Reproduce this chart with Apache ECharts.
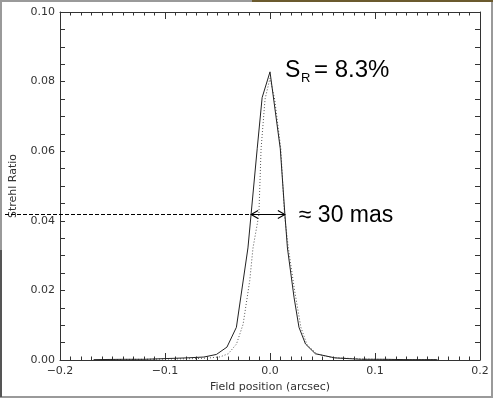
<!DOCTYPE html>
<html>
<head>
<meta charset="utf-8">
<script src="https://cdn.jsdelivr.net/npm/echarts@6/dist/echarts.min.js"></script>
<style>
html, body { margin: 0; padding: 0; background: #fff; }
#chart { width: 493px; height: 398px; }
</style>
</head>
<body>
<div id="chart"></div>
<script>
// solid curve: Strehl ratio vs field position (arcsec)
const solidX = [-0.168, -0.14, -0.12, -0.1, -0.08, -0.063, -0.051, -0.041, -0.032, -0.021, -0.0122, -0.0075, 0, 0.0098, 0.0141, 0.0166, 0.0229, 0.0276, 0.0338, 0.0432, 0.062, 0.087, 0.11, 0.13, 0.159]
const solidY = [0.0001, 0.0002, 0.0002, 0.0004, 0.0006, 0.00085, 0.0016, 0.0037, 0.0094, 0.0322, 0.0607, 0.0754, 0.0828, 0.0607, 0.0422, 0.0322, 0.018, 0.0094, 0.0046, 0.0018, 0.0006, 0.0002, 0.0002, 0.0001, 0.0001]

// dotted curve
const dotX = [-0.16, -0.12, -0.09, -0.07, -0.058, -0.0475, -0.0397, -0.0319, -0.0256, -0.0193, -0.0162, -0.0106, -0.0085, -0.0047, 0, 0.0044, 0.0103, 0.0138, 0.0175, 0.023, 0.0294, 0.0354, 0.0448, 0.059, 0.087, 0.12, 0.16]
const dotY = [0.0001, 0.0002, 0.0003, 0.0004, 0.0006, 0.0009, 0.0018, 0.0046, 0.0103, 0.0228, 0.0322, 0.0417, 0.0607, 0.075, 0.081, 0.075, 0.0607, 0.0417, 0.0322, 0.0208, 0.0094, 0.0043, 0.0017, 0.0007, 0.0003, 0.0001, 0.0001]

const xTicks = [-0.2, -0.1, 0.0, 0.1, 0.2]
const yTicks = [0.00, 0.02, 0.04, 0.06, 0.08, 0.10]

const halfLevel = 0.042
const srText = '8.3%'
const widthText = '≈ 30 mas'

const axisColor = '#333'
const textColor = '#333'
const labelFont = 'DejaVu Sans'

function zip (xs, ys) {
  return xs.map((x, i) => [x, ys[i]])
}

// x where the curve crosses a level, searching left or right of the peak
function crossing (xs, ys, level, side) {
  let peak = ys.indexOf(Math.max(...ys))
  if (side < 0) {
    for (let i = peak; i > 0; i--) {
      if (ys[i - 1] <= level && ys[i] >= level) {
        return xs[i - 1] + (level - ys[i - 1]) / (ys[i] - ys[i - 1]) * (xs[i] - xs[i - 1])
      }
    }
  } else {
    for (let i = peak; i < ys.length - 1; i++) {
      if (ys[i] >= level && ys[i + 1] <= level) {
        return xs[i] + (ys[i] - level) / (ys[i] - ys[i + 1]) * (xs[i + 1] - xs[i])
      }
    }
  }
  return 0
}

function xLabel (v) {
  let s = Math.abs(v).toFixed(1)
  return v < -1e-9 ? '\u2212' + s : s
}

const xCommon = {
  type: 'value',
  min: xTicks[0],
  max: xTicks[xTicks.length - 1],
  interval: 0.1,
  axisLine: { show: true, onZero: false, lineStyle: { color: axisColor, width: 1 } },
  axisTick: { show: true, inside: true, length: 7, lineStyle: { color: axisColor } },
  minorTick: { show: true, splitNumber: 10, length: 3.5, lineStyle: { color: axisColor } },
  splitLine: { show: false }
}

const yCommon = {
  type: 'value',
  min: yTicks[0],
  max: yTicks[yTicks.length - 1],
  interval: 0.02,
  axisLine: { show: true, onZero: false, lineStyle: { color: axisColor, width: 1 } },
  axisTick: { show: true, inside: true, length: 5, lineStyle: { color: axisColor } },
  minorTick: { show: true, splitNumber: 4, length: 5, lineStyle: { color: axisColor } },
  splitLine: { show: false }
}

const chart = echarts.init(document.getElementById('chart'), null, { renderer: 'canvas' })

chart.setOption({
  backgroundColor: '#fff',
  animation: false,
  grid: { left: 54, right: 13, top: 12, bottom: 35 },
  xAxis: [
    Object.assign({}, xCommon, {
      position: 'bottom',
      name: 'Field position (arcsec)',
      nameLocation: 'middle',
      nameGap: 22,
      nameTextStyle: { fontFamily: labelFont, fontSize: 11, color: textColor },
      axisLabel: { margin: 6, fontFamily: labelFont, fontSize: 11, color: textColor, formatter: xLabel }
    }),
    Object.assign({}, xCommon, {
      position: 'top',
      axisLabel: { show: false }
    })
  ],
  yAxis: [
    Object.assign({}, yCommon, {
      position: 'left',
      name: 'Strehl Ratio',
      nameLocation: 'middle',
      nameGap: 41,
      nameTextStyle: { fontFamily: labelFont, fontSize: 11, color: textColor },
      axisLabel: { margin: 5, fontFamily: labelFont, fontSize: 11, color: textColor, formatter: v => v.toFixed(2) }
    }),
    Object.assign({}, yCommon, {
      position: 'right',
      axisLabel: { show: false }
    })
  ],
  series: [
    {
      name: 'solid',
      type: 'line',
      data: zip(solidX, solidY),
      symbol: 'none',
      lineStyle: { color: '#222', width: 1 },
      z: 3
    },
    {
      name: 'dotted',
      type: 'line',
      data: zip(dotX, dotY),
      symbol: 'none',
      lineStyle: { color: '#555', width: 1, type: [1, 2] },
      z: 2
    },
    {
      // keeps the mirrored top/right axes bound to data
      name: 'frame',
      type: 'line',
      xAxisIndex: 1,
      yAxisIndex: 1,
      data: [],
      symbol: 'none',
      silent: true
    }
  ]
})

// annotations: dashed level line, FWHM arrow, texts
const xl = crossing(solidX, solidY, halfLevel, -1)
const xr = crossing(solidX, solidY, halfLevel, 1)
const pL = chart.convertToPixel({ gridIndex: 0 }, [xl, halfLevel])
const pR = chart.convertToPixel({ gridIndex: 0 }, [xr, halfLevel])
const pPeak = chart.convertToPixel({ gridIndex: 0 }, [0, Math.max(...solidY)])
const ay = Math.round(pL[1]) + 0.5
const head = 7
const hh = 4

chart.setOption({
  graphic: [
    // outer frame of the picture
    { type: 'rect', shape: { x: 1, y: 1, width: 491, height: 396 }, style: { fill: null, stroke: '#9a9a9a', lineWidth: 2 }, silent: true },
    { type: 'line', shape: { x1: 1, y1: 250, x2: 1, y2: 397 }, style: { stroke: '#555', lineWidth: 2 }, silent: true },
    { type: 'line', shape: { x1: 252, y1: 1, x2: 493, y2: 1 }, style: { stroke: '#6b5a2e', lineWidth: 2 }, silent: true },
    // dashed level line
    { type: 'line', shape: { x1: 5, y1: ay, x2: pL[0], y2: ay }, style: { stroke: '#000', lineWidth: 1, lineDash: [4, 2] }, z: 10 },
    // double arrow
    { type: 'line', shape: { x1: pL[0], y1: ay, x2: pR[0], y2: ay }, style: { stroke: '#000', lineWidth: 1.2 }, z: 10 },
    { type: 'polyline', shape: { points: [[pL[0] + head, ay - hh], [pL[0], ay], [pL[0] + head, ay + hh]] }, style: { stroke: '#000', lineWidth: 1.1, fill: null }, z: 10 },
    { type: 'polyline', shape: { points: [[pR[0] - head, ay - hh], [pR[0], ay], [pR[0] - head, ay + hh]] }, style: { stroke: '#000', lineWidth: 1.1, fill: null }, z: 10 },
    // S_R text
    { type: 'text', x: pPeak[0] + 15, y: pPeak[1] - 1, style: { text: 'S', font: '23px "Liberation Sans"', fill: '#000', textVerticalAlign: 'middle' }, z: 10 },
    { type: 'text', x: pPeak[0] + 31, y: pPeak[1] + 7, style: { text: 'R', font: '13px "Liberation Sans"', fill: '#000', textVerticalAlign: 'middle' }, z: 10 },
    { type: 'text', x: pPeak[0] + 44, y: pPeak[1] - 1, style: { text: '= ' + srText, font: '24px "Liberation Sans"', fill: '#000', textVerticalAlign: 'middle' }, z: 10 },
    // width text
    { type: 'text', x: pR[0] + 14, y: ay + 1, style: { text: widthText, font: '23px "Liberation Sans"', fill: '#000', textVerticalAlign: 'middle' }, z: 10 }
  ]
})
</script>
</body>
</html>
